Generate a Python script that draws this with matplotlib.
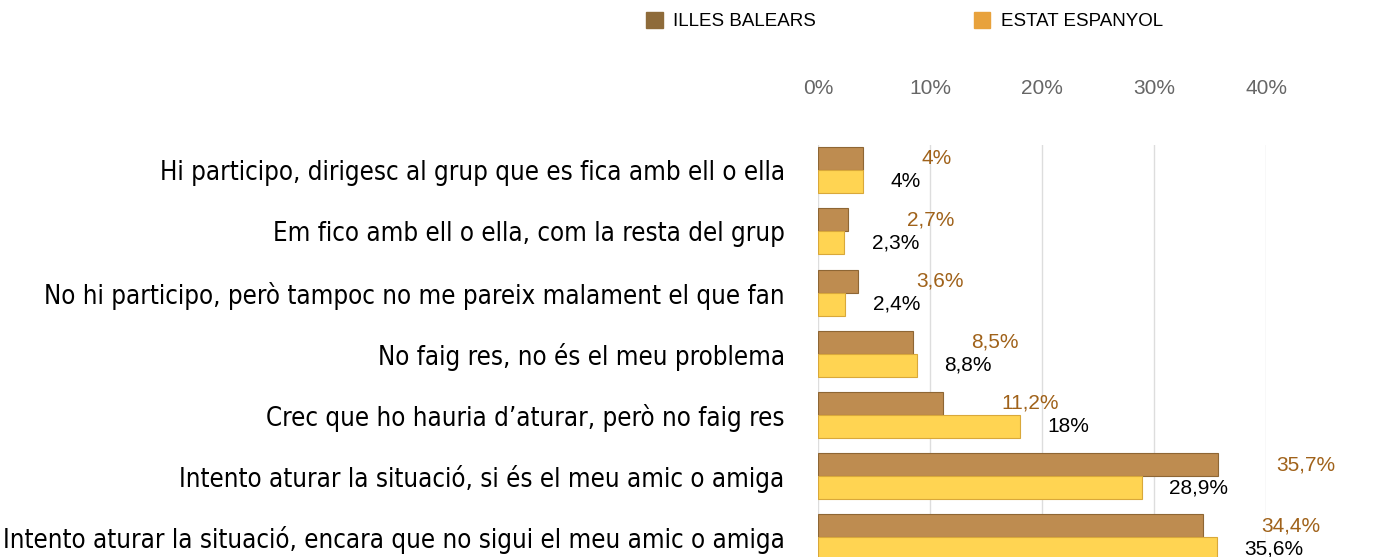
import numpy as np
import matplotlib
matplotlib.use("Agg")
from matplotlib import pyplot as plt
from matplotlib.patches import Patch

categories = [
    "Hi participo, dirigesc al grup que es fica amb ell o ella",
    "Em fico amb ell o ella, com la resta del grup",
    "No hi participo, però tampoc no me pareix malament el que fan",
    "No faig res, no és el meu problema",
    "Crec que ho hauria d\u2019aturar, però no faig res",
    "Intento aturar la situació, si és el meu amic o amiga",
    "Intento aturar la situació, encara que no sigui el meu amic o amiga",
]
illes = [4, 2.7, 3.6, 8.5, 11.2, 35.7, 34.4]
estat = [4, 2.3, 2.4, 8.8, 18, 28.9, 35.6]
series_names = ["ILLES BALEARS", "ESTAT ESPANYOL"]
xticks = [0, 10, 20, 30, 40]


def fmt(v):
    # coma decimal, com a l'original
    return ("%g" % v).replace(".", ",") + "%"


fig = plt.figure(figsize=(13.98, 5.57), dpi=100)
ax = fig.add_axes([818 / 1398, 0, 448 / 1398, 1 - 145 / 557])

y = np.arange(len(categories))
h = 0.376
ax.barh(y - h / 2, illes, height=h, color="#BE8C50", edgecolor="#8E6634", linewidth=0.8, zorder=3)
ax.barh(y + h / 2, estat, height=h, color="#FFD452", edgecolor="#D9A83A", linewidth=0.8, zorder=3)

for i in range(len(categories)):
    ax.annotate(fmt(illes[i]), (illes[i], y[i] - h / 2), xytext=(42, 0), textcoords="offset points",
                ha="left", va="center", color="#A0621A", fontsize=15, family="Liberation Sans",
                annotation_clip=False)
    ax.annotate(fmt(estat[i]), (estat[i], y[i] + h / 2), xytext=(20, 0), textcoords="offset points",
                ha="left", va="center", color="black", fontsize=15, family="Liberation Sans",
                annotation_clip=False)

ax.set_xlim(0, 40)
ax.set_ylim(6.32, -0.41)
ax.set_xticks(xticks)
ax.set_xticklabels(["%d%%" % t for t in xticks], color="#666666", fontsize=15, family="Liberation Sans")
ax.xaxis.tick_top()
ax.tick_params(axis="x", length=0, pad=34)
ax.set_yticks(y)
ax.set_yticklabels(categories, fontsize=18.5, family="DejaVu Sans", fontstretch="condensed")
ax.tick_params(axis="y", length=0, pad=24)
ax.grid(axis="x", color="#DDDDDD", linewidth=1, zorder=0)
for s in ax.spines.values():
    s.set_visible(False)

handles = [Patch(color="#8E6B3A"), Patch(color="#E8A23C")]
fig.legend(handles, series_names, loc="upper left", bbox_to_anchor=(646 / 1398, 1 - 12 / 557),
           ncol=2, frameon=False, prop={"family": "Liberation Sans", "size": 13.5},
           handlelength=0.9, handleheight=0.9, handletextpad=0.55, columnspacing=8.4,
           borderpad=0, borderaxespad=0)

fig.savefig("out.png", dpi=100)
